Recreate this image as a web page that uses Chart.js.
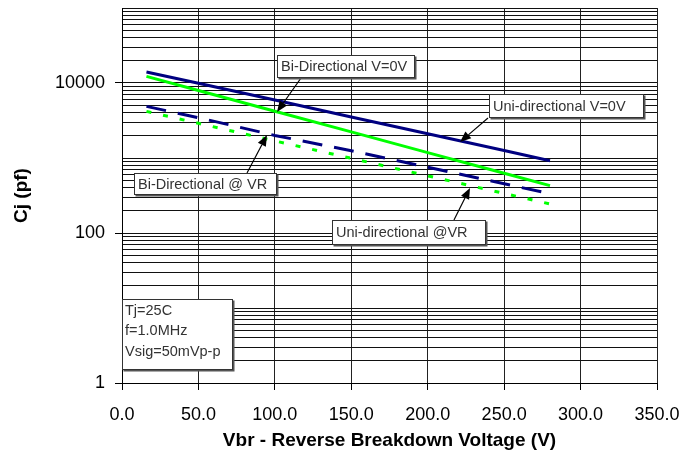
<!DOCTYPE html>
<html>
<head>
<meta charset="utf-8">
<script src="https://cdn.jsdelivr.net/npm/chart.js@4/dist/chart.umd.min.js"></script>
<style>
  body { margin: 0; background: #fff; }
  #wrap { width: 696px; height: 456px; }
</style>
</head>
<body>
<div id="wrap"><canvas id="cjChart" width="696" height="456"></canvas></div>
<script>
// breakdown voltage (V) where the curves were read
const vbr = [16, 50, 100, 150, 200, 250, 280];
// capacitance in pF
const biZeroV = [14000, 9900, 5950, 3520, 2100, 1260, 920];   // navy solid
const uniZeroV = [12250, 7950, 4200, 2230, 1180, 626, 428];   // green solid
const biAtVR = [4880, 3450, 2000, 1250, 752, 453, 334];       // navy dashed
const uniAtVR = [4180, 2900, 1690, 990, 578, 337, 244];       // green dotted
const yLabels = [1, 100, 10000];
const xTicks = [0, 50, 100, 150, 200, 250, 300, 350];

const font = '"Liberation Sans", Arial, sans-serif';

function pts(ys) {
  return vbr.map((x, i) => ({ x: x, y: ys[i] }));
}

// annotation boxes + arrows (pixel positions)
const notes = [
  { text: ['Bi-Directional V=0V'], box: [277, 55, 415, 78], from: [301, 78], to: [277, 112] },
  { text: ['Uni-directional V=0V'], box: [489, 94, 644, 118], from: [488, 118], to: [460, 142] },
  { text: ['Bi-Directional @ VR'], box: [134, 173, 277, 195], from: [247, 173], to: [267, 135] },
  { text: ['Uni-directional @VR'], box: [332, 220, 486, 245], from: [454, 220], to: [470, 188] },
  { text: ['Tj=25C', 'f=1.0MHz', 'Vsig=50mVp-p'], box: [122, 299, 233, 370] }
];

function arrow(c, a, b) {
  const ang = Math.atan2(b[1] - a[1], b[0] - a[0]);
  const hl = 11, hw = 4.5;
  const bx = b[0] - hl * Math.cos(ang), by = b[1] - hl * Math.sin(ang);
  c.strokeStyle = '#000';
  c.lineWidth = 1.2;
  c.beginPath();
  c.moveTo(a[0], a[1]);
  c.lineTo(bx, by);
  c.stroke();
  c.fillStyle = '#000';
  c.beginPath();
  c.moveTo(b[0], b[1]);
  c.lineTo(bx + hw * Math.sin(ang), by - hw * Math.cos(ang));
  c.lineTo(bx - hw * Math.sin(ang), by + hw * Math.cos(ang));
  c.closePath();
  c.fill();
}

const notePlugin = {
  id: 'notes',
  afterDatasetsDraw(chart) {
    const c = chart.ctx;
    c.save();
    for (let n of notes) {
      const [x1, y1, x2, y2] = n.box;
      if (n.from) arrow(c, n.from, n.to);
      c.fillStyle = '#555';
      c.fillRect(x1 + 1.5, y1 + 1.5, x2 - x1, y2 - y1);
      c.fillStyle = '#fff';
      c.fillRect(x1, y1, x2 - x1, y2 - y1);
      c.strokeStyle = '#333';
      c.lineWidth = 1;
      c.strokeRect(x1 + 0.5, y1 + 0.5, x2 - x1 - 1, y2 - y1 - 1);
      c.fillStyle = '#333';
      c.font = '14.5px ' + font;
      c.textBaseline = 'middle';
      c.textAlign = 'left';
      if (n.text.length == 1) {
        c.fillText(n.text[0], x1 + 4, (y1 + y2) / 2 + 0.5);
      } else {
        n.text.forEach((t, i) => c.fillText(t, x1 + 3, y1 + 12 + i * 20.3));
      }
    }
    c.restore();
  }
};

const ctx = document.getElementById('cjChart').getContext('2d');
const chart = new Chart(ctx, {
  type: 'line',
  data: {
    datasets: [
      { label: 'Bi-Directional V=0V', data: pts(biZeroV), borderColor: '#000080', borderWidth: 3 },
      { label: 'Uni-directional V=0V', data: pts(uniZeroV), borderColor: '#00ff00', borderWidth: 3 },
      { label: 'Bi-Directional @ VR', data: pts(biAtVR), borderColor: '#000080', borderWidth: 3, borderDash: [20, 12] },
      { label: 'Uni-directional @VR', data: pts(uniAtVR), borderColor: '#00ff00', borderWidth: 3, borderDash: [5, 12] }
    ]
  },
  options: {
    responsive: false,
    animation: false,
    events: [],
    layout: { padding: { top: 8, right: 39, left: 0, bottom: 0 } },
    elements: { point: { radius: 0 }, line: { tension: 0 } },
    plugins: { legend: { display: false }, tooltip: { enabled: false } },
    scales: {
      x: {
        type: 'linear',
        min: 0,
        max: 350,
        afterBuildTicks: (s) => { s.ticks = xTicks.map(v => ({ value: v })); },
        afterFit: (s) => { s.height = 73; },
        grid: { color: '#222', lineWidth: 1, tickLength: 7, tickColor: '#000' },
        border: { color: '#000' },
        ticks: {
          color: '#000',
          padding: 14,
          font: { family: font, size: 18 },
          callback: (v) => Number(v).toFixed(1)
        },
        title: {
          display: true,
          text: 'Vbr - Reverse Breakdown Voltage (V)',
          color: '#000',
          font: { family: font, size: 19, weight: 'bold' },
          padding: { top: 0, bottom: 4 }
        }
      },
      y: {
        type: 'logarithmic',
        min: 1,
        max: 100000,
        afterBuildTicks: (s) => {
          let t = [];
          for (let d = 1; d < 100000; d *= 10) {
            for (let k = 1; k < 10; k++) t.push({ value: d * k });
          }
          t.push({ value: 100000 });
          s.ticks = t;
        },
        afterFit: (s) => { s.width = 122; s.paddingTop = 0; s.paddingBottom = 0; },
        grid: {
          color: '#111',
          lineWidth: 1,
          tickLength: 7,
          tickColor: (c) => (c.tick && yLabels.includes(c.tick.value)) ? '#000' : 'rgba(0,0,0,0)'
        },
        border: { color: '#000' },
        ticks: {
          autoSkip: false,
          color: '#000',
          padding: 10,
          font: { family: font, size: 18 },
          callback: (v) => yLabels.includes(v) ? String(v) : ''
        },
        title: {
          display: true,
          text: 'Cj (pf)',
          color: '#000',
          font: { family: font, size: 19, weight: 'bold' },
          padding: { top: 10, bottom: 0 }
        }
      }
    }
  },
  plugins: [notePlugin]
});
</script>
</body>
</html>
